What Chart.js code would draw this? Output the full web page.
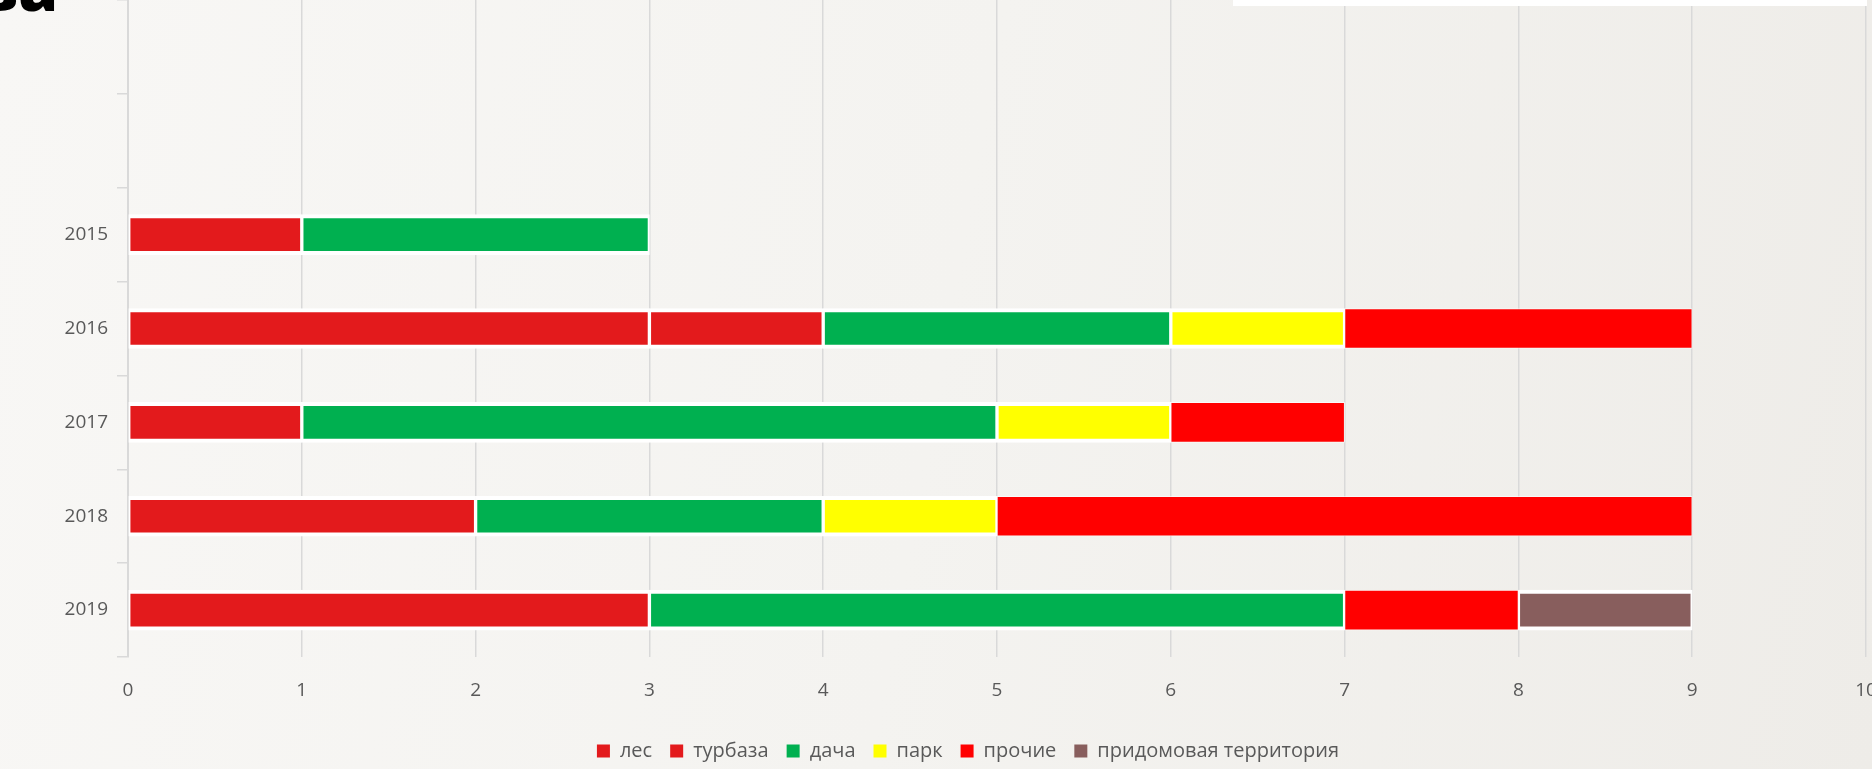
<!DOCTYPE html>
<html lang="ru">
<head>
<meta charset="utf-8">
<title>Диаграмма</title>
<script src="https://cdn.jsdelivr.net/npm/chart.js@4.4.1/dist/chart.umd.min.js"></script>
<style>
    html, body {
        margin: 0;
        padding: 0;
        width: 1872px;
        height: 769px;
        overflow: hidden;
        background: linear-gradient(100deg, #f8f7f5 0%, #f4f3f0 50%, #eeece8 100%);
        font-family: "Open Sans", sans-serif;
    }
    #titulo {
        position: absolute;
        left: -300px;
        width: 358px;
        top: -45px;
        text-align: right;
        white-space: nowrap;
        font-size: 64px;
        line-height: 64px;
        font-weight: 800;
        color: #000;
    }
    #caja {
        position: absolute;
        left: 1233px;
        top: 0;
        width: 634px;
        height: 6px;
        background: #fff;
    }
    #contenedor {
        position: absolute;
        left: 0;
        top: 0;
        width: 1872px;
        height: 771px;
    }
</style>
</head>
<body>
<div id="contenedor"><canvas id="myChart"></canvas></div>
<div id="titulo">ва</div>
<div id="caja"></div>
<script>
    // Categorías (las dos primeras vacías, como en la diapositiva)
    const years = ['', '', '2015', '2016', '2017', '2018', '2019'];

    // Valores por serie
    const les = [null, null, 1, 3, 1, 2, 3];
    const turbaza = [null, null, null, 1, null, null, null];
    const dacha = [null, null, 2, 2, 4, 2, 4];
    const park = [null, null, null, 1, 1, 1, null];
    const prochie = [null, null, null, 2, 1, 4, 1];
    const pridomovaya = [null, null, null, null, null, null, 1];

    const xTicks = [0, 1, 2, 3, 4, 5, 6, 7, 8, 9, 10];

    const gris = '#595959';
    const linea = '#d9d9d9';
    const bordeBlanco = { top: 4, bottom: 4, left: 2, right: 2 };

    const ctx = document.getElementById('myChart').getContext('2d');

    const myChart = new Chart(ctx, {
        type: 'bar',
        data: {
            labels: years,
            datasets: [
                { label: 'лес', data: les, backgroundColor: '#e31a1c', borderColor: '#ffffff', borderWidth: bordeBlanco, borderSkipped: false },
                { label: 'турбаза', data: turbaza, backgroundColor: '#e31a1c', borderColor: '#ffffff', borderWidth: bordeBlanco, borderSkipped: false },
                { label: 'дача', data: dacha, backgroundColor: '#00b050', borderColor: '#ffffff', borderWidth: bordeBlanco, borderSkipped: false },
                { label: 'парк', data: park, backgroundColor: '#ffff00', borderColor: '#ffffff', borderWidth: bordeBlanco, borderSkipped: false },
                { label: 'прочие', data: prochie, backgroundColor: '#ff0000', borderColor: 'rgba(255,255,255,0.6)', borderWidth: 1, borderSkipped: false },
                { label: 'придомовая территория', data: pridomovaya, backgroundColor: '#885e5d', borderColor: '#ffffff', borderWidth: bordeBlanco, borderSkipped: false }
            ]
        },
        options: {
            indexAxis: 'y',
            responsive: true,
            maintainAspectRatio: false,
            animation: false,
            layout: {
                padding: { left: 64, right: 0, top: 0, bottom: 0 }
            },
            datasets: {
                bar: { barThickness: 40 }
            },
            scales: {
                x: {
                    stacked: true,
                    min: 0,
                    max: 10,
                    afterBuildTicks: function (axis) {
                        axis.ticks = xTicks.map(v => ({ value: v }));
                    },
                    afterFit: function (axis) {
                        axis.height = 66;
                        axis.paddingLeft = 0;
                        axis.paddingRight = 6;
                    },
                    grid: {
                        color: linea,
                        lineWidth: 1.5,
                        drawTicks: false
                    },
                    border: { display: false },
                    ticks: {
                        color: gris,
                        padding: 22,
                        font: { family: 'Open Sans', size: 19 }
                    }
                },
                y: {
                    stacked: true,
                    afterFit: function (axis) {
                        axis.width = 64;
                        axis.paddingTop = 0;
                        axis.paddingBottom = 0;
                    },
                    grid: {
                        color: linea,
                        lineWidth: 1.5,
                        drawOnChartArea: false,
                        drawTicks: true,
                        tickLength: 11
                    },
                    border: { display: true, color: linea, width: 2 },
                    ticks: {
                        color: gris,
                        padding: 9,
                        font: { family: 'Open Sans', size: 19 }
                    }
                }
            },
            plugins: {
                legend: {
                    position: 'bottom',
                    labels: {
                        color: gris,
                        boxWidth: 13,
                        boxHeight: 13,
                        padding: 18,
                        font: { family: 'Open Sans', size: 20 },
                        generateLabels: function (chart) {
                            const items = Chart.defaults.plugins.legend.labels.generateLabels(chart);
                            return items.map(item => Object.assign(item, { lineWidth: 0 }));
                        }
                    }
                },
                tooltip: { enabled: false }
            }
        }
    });
</script>
</body>
</html>
